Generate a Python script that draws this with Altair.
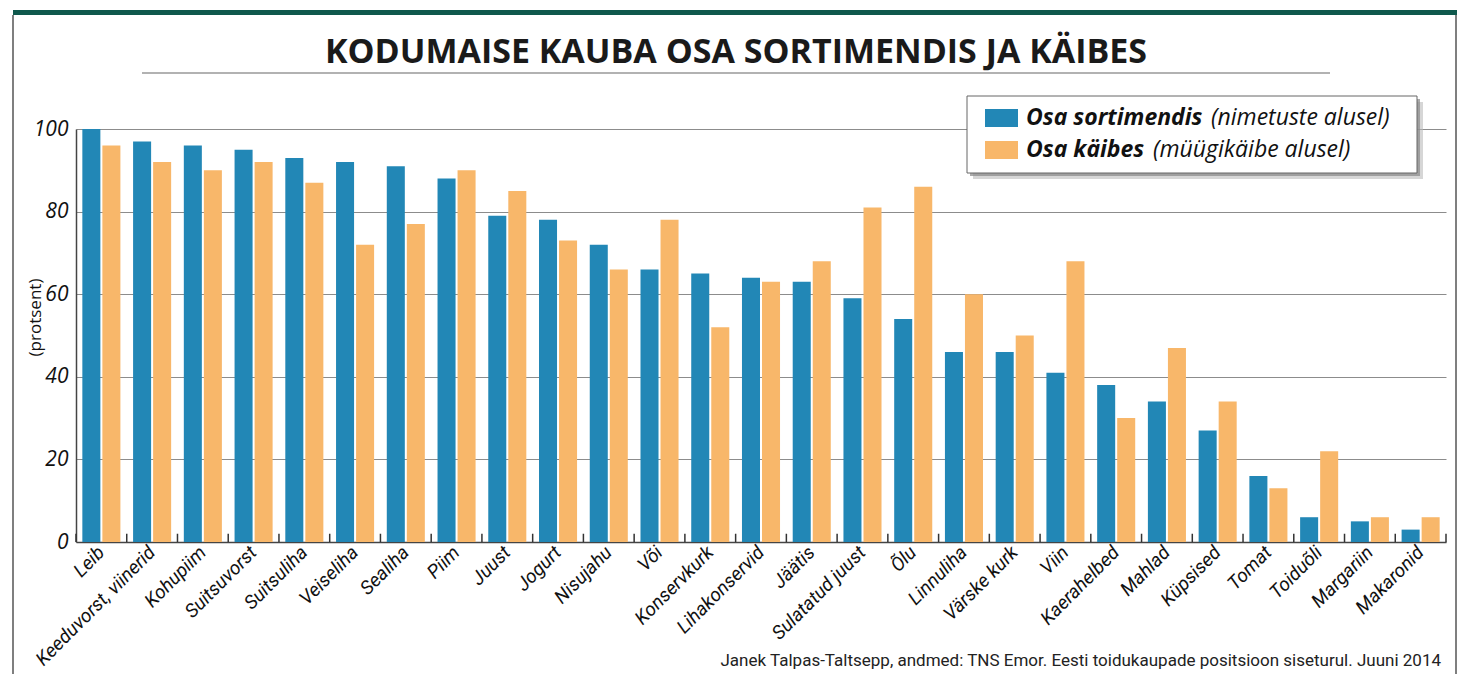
import altair as alt
import pandas as pd

categories = ["Leib", "Keeduvorst, viinerid", "Kohupiim", "Suitsuvorst", "Suitsuliha",
              "Veiseliha", "Sealiha", "Piim", "Juust", "Jogurt", "Nisujahu", "Või",
              "Konservkurk", "Lihakonservid", "Jäätis", "Sulatatud juust", "Õlu",
              "Linnuliha", "Värske kurk", "Viin", "Kaerahelbed", "Mahlad", "Küpsised",
              "Tomat", "Toiduõli", "Margariin", "Makaronid"]
osa_sortimendis = [100, 97, 96, 95, 93, 92, 91, 88, 79, 78, 72, 66, 65, 64, 63, 59, 54,
                   46, 46, 41, 38, 34, 27, 16, 6, 5, 3]
osa_kaibes = [96, 92, 90, 92, 87, 72, 77, 90, 85, 73, 66, 78, 52, 63, 68, 81, 86,
              60, 50, 68, 30, 47, 34, 13, 22, 6, 6]
series = ["Osa sortimendis", "Osa käibes"]
y_ticks = [0, 20, 40, 60, 80, 100]

BLUE = "#2287b6"
ORANGE = "#f8b76a"
FONT = "Open Sans"
NARROW = "Liberation Sans Narrow, Roboto"

rows = []
for c, a, b in zip(categories, osa_sortimendis, osa_kaibes):
    rows.append({"cat": c, "series": series[0], "value": a})
    rows.append({"cat": c, "series": series[1], "value": b})
df = pd.DataFrame(rows)

W, H = 1370, 413
P_IN, P_OUT = 0.25, 0.125
xscale = alt.Scale(paddingInner=P_IN, paddingOuter=P_OUT)
half_gap = W / len(categories) * P_OUT

bars = alt.Chart(df).mark_bar().encode(
    x=alt.X("cat:N", sort=categories, scale=xscale,
            axis=alt.Axis(title=None, labelAngle=-45, labelAlign="right", labelBaseline="middle",
                          labelFont=NARROW, labelFontStyle="italic", labelFontSize=19,
                          labelColor="#111", labelPadding=7, ticks=False,
                          domainColor="#444", domainWidth=1.5)),
    xOffset=alt.XOffset("series:N", sort=series, scale=alt.Scale(paddingInner=0.1)),
    y=alt.Y("value:Q", scale=alt.Scale(domain=[0, 100], nice=False),
            axis=alt.Axis(values=y_ticks, title="(protsent)", grid=True, gridColor="#8c8c8c",
                          gridWidth=1, ticks=False, labelFont=FONT, labelFontStyle="italic",
                          labelFontSize=21, labelColor="#111", labelPadding=8,
                          domainColor="#444", domainWidth=1.5,
                          titleFont=FONT, titleFontSize=17, titleFontWeight="normal",
                          titleColor="#111", titleX=-41, titleY=188, titleAngle=-90,
                          titleAlign="center", titleBaseline="middle")),
    color=alt.Color("series:N", scale=alt.Scale(domain=series, range=[BLUE, ORANGE]), legend=None),
)

tick_df = pd.DataFrame({"cat": categories})
ticks = alt.Chart(tick_df).mark_rule(color="#333", strokeWidth=1.5, xOffset=-half_gap).encode(
    x=alt.X("cat:N", sort=categories, scale=xscale, bandPosition=0),
    y=alt.datum(0), y2=alt.datum(2),
)
last_tick = alt.Chart(pd.DataFrame({"cat": [categories[-1]]})).mark_rule(
    color="#333", strokeWidth=1.5, xOffset=half_gap).encode(
    x=alt.X("cat:N", sort=categories, scale=xscale, bandPosition=1),
    y=alt.datum(0), y2=alt.datum(2),
)

one = pd.DataFrame({"a": [0]})


def rect(x, x2, y, y2, **kw):
    return alt.Chart(one).mark_rect(**kw).encode(
        x=alt.value(x), x2=alt.value(x2), y=alt.value(y), y2=alt.value(y2))


def rule(x, x2, y, y2, **kw):
    return alt.Chart(one).mark_rule(**kw).encode(
        x=alt.value(x), x2=alt.value(x2), y=alt.value(y), y2=alt.value(y2))


def text(x, y, s, **kw):
    return alt.Chart(one).mark_text(baseline="middle", **kw).encode(
        x=alt.value(x), y=alt.value(y), text=alt.value(s))


ox, oy = 76, 129  # plot origin in page coordinates

deco = [
    rect(13 - ox, 1457 - ox, 10 - oy, 15 - oy, color="#0f584c"),
    rule(13 - ox, 13 - ox, 15 - oy, 674 - oy, color="#555", strokeWidth=1.5),
    rule(1456 - ox, 1456 - ox, 15 - oy, 674 - oy, color="#555", strokeWidth=1.5),
    text(736 - ox, 53 - oy, "KODUMAISE KAUBA OSA SORTIMENDIS JA KÄIBES",
         font=FONT, fontSize=34, fontWeight="bold", color="#1a1a1a", align="center"),
    rule(142 - ox, 1330 - ox, 73 - oy, 73 - oy, color="#999", strokeWidth=1.5),
    text(1441 - ox, 661 - oy,
         "Janek Talpas-Taltsepp, andmed: TNS Emor. Eesti toidukaupade positsioon siseturul. Juuni 2014",
         font=NARROW, fontSize=17, color="#222", align="right"),
]

# legend
lx0, lx1, ly0, ly1 = 967 - ox, 1417 - ox, 96 - oy, 173 - oy
legend = [
    rect(lx0 + 6, lx1 + 6, ly0 + 6, ly1 + 6, color="#bbbbbb", opacity=0.6),
    rect(lx0 + 3, lx1 + 3, ly0 + 3, ly1 + 3, color="#888888", opacity=0.7),
    rect(lx0, lx1, ly0, ly1, fill="white", stroke="#666", strokeWidth=1),
    rect(985 - ox, 1018 - ox, 109 - oy, 127 - oy, color=BLUE),
    rect(985 - ox, 1018 - ox, 141 - oy, 159 - oy, color=ORANGE),
    text(1026 - ox, 118 - oy, "Osa sortimendis", font=FONT, fontSize=23,
         fontWeight="bold", fontStyle="italic", color="#111", align="left"),
    text(1211 - ox, 118 - oy, "(nimetuste alusel)", font=FONT, fontSize=23,
         fontStyle="italic", color="#111", align="left"),
    text(1026 - ox, 150 - oy, "Osa käibes", font=FONT, fontSize=23,
         fontWeight="bold", fontStyle="italic", color="#111", align="left"),
    text(1153 - ox, 150 - oy, "(müügikäibe alusel)", font=FONT, fontSize=23,
         fontStyle="italic", color="#111", align="left"),
]

chart = alt.layer(bars, ticks, last_tick, *deco, *legend).properties(
    width=W, height=H,
    autosize=alt.AutoSizeParams(type="none"),
    padding={"left": ox, "top": oy, "right": 1466 - ox - W, "bottom": 674 - oy - H},
    background="white",
).configure_view(stroke=None)

chart.save("out.html", embed_options={"renderer": "svg", "actions": False})
